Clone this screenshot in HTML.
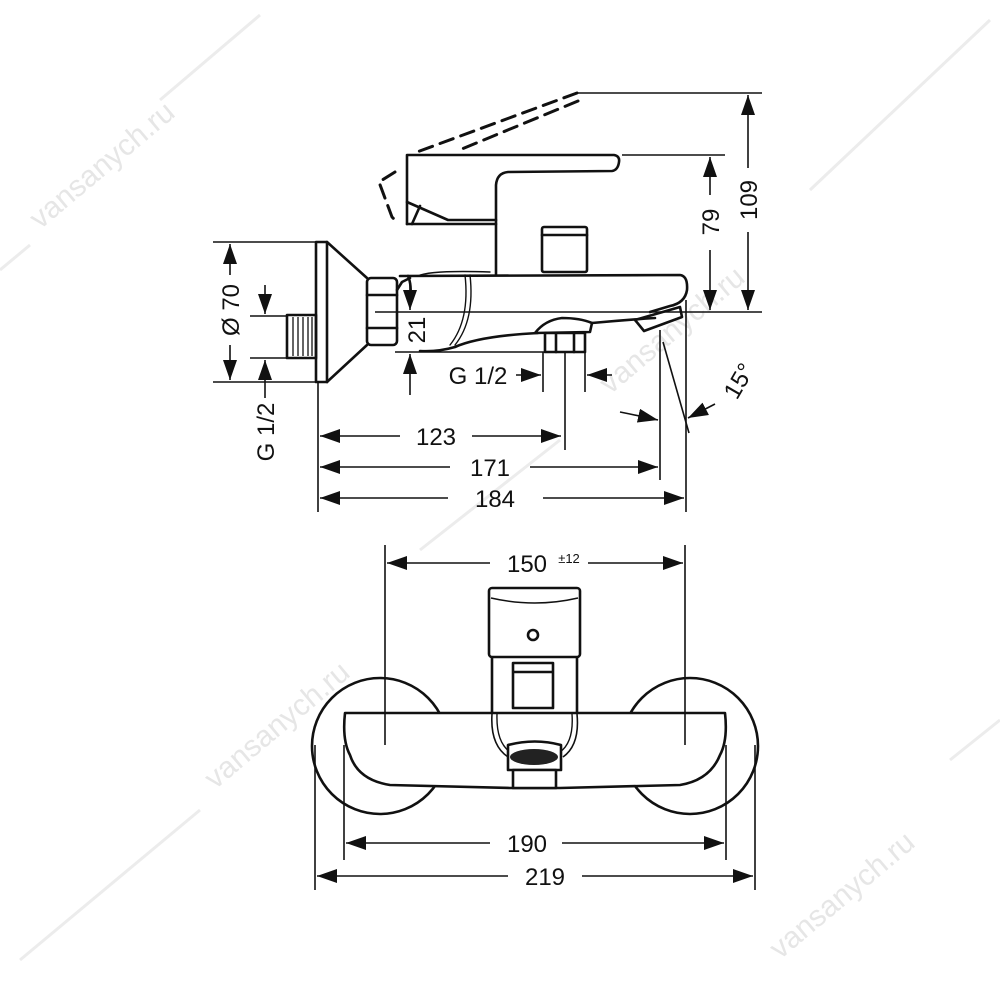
<!DOCTYPE html>
<html><head><meta charset="utf-8"><style>
html,body{margin:0;padding:0;background:#fff}
svg{display:block}
text{font-family:"Liberation Sans","DejaVu Sans",sans-serif;fill:#111}
</style></head><body>
<svg width="1000" height="1000" viewBox="0 0 1000 1000" xmlns="http://www.w3.org/2000/svg">
<defs>
<marker id="a" viewBox="0 0 20 14" refX="20" refY="7" markerWidth="20" markerHeight="14" markerUnits="userSpaceOnUse" orient="auto-start-reverse"><path d="M0,0 L20,7 L0,14 Z" fill="#111"/></marker>
</defs>
<!-- watermarks -->
<g font-size="30">
<text transform="translate(40,230) rotate(-40)" style="fill:#e6e6e6">vansanych.ru</text>
<text transform="translate(610,395) rotate(-40)" style="fill:#e6e6e6">vansanych.ru</text>
<text transform="translate(215,790) rotate(-40)" style="fill:#e6e6e6">vansanych.ru</text>
<text transform="translate(780,960) rotate(-40)" style="fill:#e6e6e6">vansanych.ru</text>
</g>
<g stroke="#ececec" stroke-width="3">
<line x1="0" y1="270" x2="30" y2="245"/><line x1="160" y1="100" x2="260" y2="15"/>
<line x1="810" y1="190" x2="990" y2="20"/>
<line x1="20" y1="960" x2="200" y2="810"/><line x1="420" y1="550" x2="560" y2="440"/>
<line x1="950" y1="760" x2="1000" y2="720"/>
</g>

<g fill="none" stroke="#111" stroke-width="2.6" stroke-linejoin="round" stroke-linecap="round">
<g stroke-dasharray="14,8" stroke-width="3">
<path d="M577,93 L417,152"/>
<path d="M578,101 L457,151"/>
<path d="M395,172 L379,182 L392,217 L397,222"/>
</g>
<path d="M407,224 L407,155 L614,155 Q620,156 619,162 Q618,170 612,171 L508,172 Q497,173 496,185 L496,275"/>
<path d="M407,202 L448,220 L496,220"/>
<path d="M407,224 L496,224"/>
<path d="M412,224 L420,206"/>
<rect x="542" y="227" width="45" height="45" rx="2"/>
<line x1="542" y1="235" x2="587" y2="235"/>
<path d="M400,276 L680,275 Q688,276 687,290 Q685,303 670,306 L650,312"/>
<path d="M408,276 Q412,285 410,300"/>
<path d="M655,318 Q625,320 592,323 M538,333 Q480,336 455,347 Q438,352 420,351"/>
<path d="M418,276 Q430,270 490,272" stroke-width="1.4"/>
<path d="M470,275 Q475,320 455,345" stroke-width="1.4"/>
<path d="M465,275 Q470,320 450,345" stroke-width="1.4"/>
<path d="M635,320 L680,307 L682,317 L644,331 Z"/>
<path d="M535,333 Q545,320 562,318 Q580,318 592,323 L590,332 Z"/>
<rect x="545" y="333" width="40" height="19"/>
<line x1="556" y1="333" x2="556" y2="352"/><line x1="574" y1="333" x2="574" y2="352"/>
<rect x="316" y="242" width="11" height="140"/>
<path d="M327,242 L367,278 M327,382 L367,345"/>
<rect x="367" y="278" width="30" height="67" rx="4"/>
<line x1="367" y1="295" x2="397" y2="295"/><line x1="367" y1="328" x2="397" y2="328"/>
<path d="M397,290 L402,282 L410,278"/>
<rect x="287" y="315" width="29" height="43"/>
</g>
<g stroke="#111" stroke-width="1.3">
<line x1="293" y1="317" x2="293" y2="356"/><line x1="298" y1="317" x2="298" y2="356"/><line x1="303" y1="317" x2="303" y2="356"/><line x1="308" y1="317" x2="308" y2="356"/><line x1="312" y1="317" x2="312" y2="356"/>
</g>

<g fill="none" stroke="#111" stroke-width="1.6">
<line x1="575" y1="93" x2="762" y2="93"/>
<line x1="622" y1="155" x2="725" y2="155"/>
<line x1="375" y1="312" x2="762" y2="312"/>
<line x1="748" y1="95" x2="748" y2="168" marker-start="url(#a)"/><line x1="748" y1="232" x2="748" y2="310" marker-end="url(#a)"/>
<line x1="710" y1="157" x2="710" y2="195" marker-start="url(#a)"/><line x1="710" y1="250" x2="710" y2="310" marker-end="url(#a)"/>
<line x1="213" y1="242" x2="315" y2="242"/><line x1="213" y1="382" x2="315" y2="382"/>
<line x1="230" y1="244" x2="230" y2="275" marker-start="url(#a)"/><line x1="230" y1="345" x2="230" y2="380" marker-end="url(#a)"/>
<line x1="250" y1="316" x2="287" y2="316"/><line x1="250" y1="358" x2="287" y2="358"/>
<line x1="265" y1="285" x2="265" y2="314" marker-end="url(#a)"/><line x1="265" y1="360" x2="265" y2="398" marker-start="url(#a)"/>
<line x1="410" y1="285" x2="410" y2="310" marker-end="url(#a)"/>
<line x1="395" y1="352" x2="545" y2="352"/>
<line x1="410" y1="354" x2="410" y2="395" marker-start="url(#a)"/>
<line x1="543" y1="352" x2="543" y2="392"/><line x1="585" y1="352" x2="585" y2="392"/>
<line x1="565" y1="352" x2="565" y2="450"/>
<line x1="516" y1="375" x2="541" y2="375" marker-end="url(#a)"/>
<line x1="587" y1="375" x2="612" y2="375" marker-start="url(#a)"/>
<line x1="660" y1="330" x2="660" y2="480"/>
<line x1="686" y1="300" x2="686" y2="512"/>
<line x1="663" y1="342" x2="689" y2="433"/>
<path d="M620,412 Q640,416 658,420" marker-end="url(#a)"/>
<line x1="715" y1="404" x2="688" y2="418" marker-end="url(#a)"/>
<line x1="318" y1="382" x2="318" y2="512"/>
<line x1="320" y1="436" x2="400" y2="436" marker-start="url(#a)"/><line x1="472" y1="436" x2="561" y2="436" marker-end="url(#a)"/>
<line x1="320" y1="467" x2="450" y2="467" marker-start="url(#a)"/><line x1="530" y1="467" x2="658" y2="467" marker-end="url(#a)"/>
<line x1="320" y1="498" x2="448" y2="498" marker-start="url(#a)"/><line x1="543" y1="498" x2="684" y2="498" marker-end="url(#a)"/>
</g>
<g font-size="24">
<text transform="translate(757,200) rotate(-90)" text-anchor="middle">109</text>
<text transform="translate(719,222) rotate(-90)" text-anchor="middle">79</text>
<text transform="translate(239,310) rotate(-90)" text-anchor="middle">Ø 70</text>
<text transform="translate(274,432) rotate(-90)" text-anchor="middle">G 1/2</text>
<text transform="translate(425,330) rotate(-90)" text-anchor="middle">21</text>
<text x="478" y="384" text-anchor="middle">G 1/2</text>
<text transform="translate(746,385) rotate(-60)" text-anchor="middle">15°</text>
<text x="436" y="445" text-anchor="middle">123</text>
<text x="490" y="476" text-anchor="middle">171</text>
<text x="495" y="507" text-anchor="middle">184</text>
</g>

<!-- bottom view -->
<g fill="none" stroke="#111" stroke-width="2.6" stroke-linejoin="round">
<circle cx="380" cy="746" r="68"/>
<circle cx="690" cy="746" r="68"/>
<path d="M345,713 L725,713 Q728,740 720,755 Q710,780 680,785 L560,788 L510,788 L390,785 Q358,780 350,755 Q342,740 345,713 Z" fill="#fff"/>
<rect x="489" y="588" width="91" height="69" rx="3" fill="#fff"/>
<path d="M491,598 Q535,608 578,598" stroke-width="1.5"/>
<circle cx="533" cy="635" r="5"/>
<path d="M492,657 L492,712 M577,657 L577,712"/>
<rect x="513" y="663" width="40" height="45"/>
<line x1="513" y1="672" x2="553" y2="672"/>
<path d="M492,714 Q490,745 508,757 M577,714 Q580,745 563,757" stroke-width="1.6"/>
<path d="M497,714 Q496,742 510,752 M572,714 Q574,742 560,752" stroke-width="1.4"/>
<path d="M508,745 L508,770 L561,770 L561,745 Q535,738 508,745 Z" fill="#fff"/>
<rect x="513" y="770" width="43" height="18" fill="#fff"/>
</g>
<ellipse cx="534" cy="757" rx="24" ry="8" fill="#222"/>
<g fill="none" stroke="#111" stroke-width="1.6">
<line x1="385" y1="545" x2="385" y2="745"/><line x1="685" y1="545" x2="685" y2="745"/>
<line x1="387" y1="563" x2="490" y2="563" marker-start="url(#a)"/><line x1="588" y1="563" x2="683" y2="563" marker-end="url(#a)"/>
<line x1="344" y1="745" x2="344" y2="860"/><line x1="726" y1="745" x2="726" y2="860"/>
<line x1="315" y1="745" x2="315" y2="890"/><line x1="755" y1="745" x2="755" y2="890"/>
<line x1="346" y1="843" x2="490" y2="843" marker-start="url(#a)"/><line x1="562" y1="843" x2="724" y2="843" marker-end="url(#a)"/>
<line x1="317" y1="876" x2="508" y2="876" marker-start="url(#a)"/><line x1="582" y1="876" x2="753" y2="876" marker-end="url(#a)"/>
</g>
<g font-size="24">
<text x="527" y="572" text-anchor="middle">150</text>
<text x="569" y="563" font-size="13" text-anchor="middle">±12</text>
<text x="527" y="852" text-anchor="middle">190</text>
<text x="545" y="885" text-anchor="middle">219</text>
</g>
</svg>
</body></html>
